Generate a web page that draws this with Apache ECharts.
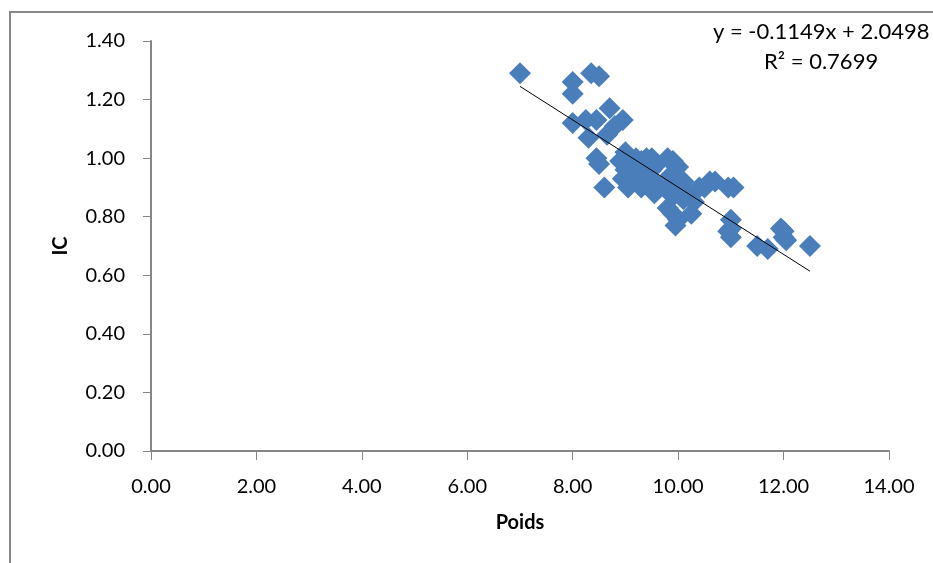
<!DOCTYPE html>
<html>
<head>
<meta charset="utf-8">
<title>IC vs Poids</title>
<script src="https://cdn.jsdelivr.net/npm/echarts@6/dist/echarts.min.js"></script>
<style>
  html, body { margin: 0; padding: 0; background: #fff; }
  #chart { width: 933px; height: 563px; }
</style>
</head>
<body>
<div id="chart"></div>
<script>
// Poids (x) and IC (y)
const poids = [
  7.0, 8.0, 8.0, 8.35, 8.5,
  8.0, 8.25, 8.45, 8.7, 8.8, 8.95,
  8.3, 8.65, 8.45, 8.5, 8.6,
  9.0, 9.1, 9.2, 9.3, 9.4, 9.5, 9.6, 9.8, 9.9, 10.0,
  8.9, 9.0, 9.1, 9.2, 9.35, 9.5, 9.85, 10.0, 10.1,
  8.95, 9.05, 9.2, 9.4, 9.6, 9.8, 10.0, 10.2, 10.4,
  9.3, 9.55, 9.9, 10.1, 10.3,
  9.8, 9.9, 10.0, 9.95, 10.25,
  10.5, 10.6, 10.7, 10.95, 11.05,
  11.0, 11.0, 11.0, 10.95,
  11.5, 11.7, 12.0, 12.0, 12.05, 11.95, 12.5
]
const ic = [
  1.29, 1.26, 1.22, 1.29, 1.28,
  1.12, 1.13, 1.13, 1.17, 1.11, 1.13,
  1.07, 1.08, 1.0, 0.98, 0.9,
  1.02, 1.0, 1.0, 0.99, 1.0, 1.0, 0.98, 1.0, 0.99, 0.97,
  0.99, 0.96, 0.95, 0.97, 0.95, 0.96, 0.94, 0.93, 0.92,
  0.93, 0.9, 0.92, 0.93, 0.91, 0.9, 0.9, 0.88, 0.9,
  0.9, 0.88, 0.87, 0.86, 0.85,
  0.83, 0.81, 0.79, 0.77, 0.81,
  0.9, 0.92, 0.92, 0.9, 0.9,
  0.79, 0.76, 0.73, 0.75,
  0.7, 0.69, 0.75, 0.73, 0.72, 0.76, 0.7
]
// linear trend line end points
const trendX = [7.0, 12.5]
const trendY = [1.245, 0.614]
const eqText = 'y = -0.1149x + 2.0498'
const r2Text = 'R² = 0.7699'

const font = 'Lato, "Open Sans", sans-serif'
const axisColor = '#868686'

const chart = echarts.init(document.getElementById('chart'), null, { renderer: 'canvas' })

chart.setOption({
  animation: false,
  backgroundColor: '#fff',
  grid: { left: 151, right: 44, top: 41, bottom: 112 },
  xAxis: {
    type: 'value',
    min: 0,
    max: 14,
    interval: 2,
    name: 'Poids',
    nameLocation: 'middle',
    nameGap: 62,
    nameTextStyle: { fontFamily: font, fontSize: 20, fontWeight: 'bold', color: '#000' },
    axisLine: { lineStyle: { color: axisColor, width: 2 } },
    axisTick: { length: 9, lineStyle: { color: axisColor } },
    axisLabel: {
      fontFamily: font, fontSize: 20, color: '#000', margin: 26,
      formatter: v => v.toFixed(2)
    },
    splitLine: { show: false }
  },
  yAxis: {
    type: 'value',
    min: 0,
    max: 1.4,
    interval: 0.2,
    name: 'IC',
    nameLocation: 'middle',
    nameGap: 80,
    nameTextStyle: { fontFamily: font, fontSize: 20, fontWeight: 'bold', color: '#000' },
    axisLine: { show: true, lineStyle: { color: axisColor, width: 2 } },
    axisTick: { show: true, length: 8, lineStyle: { color: axisColor } },
    axisLabel: {
      fontFamily: font, fontSize: 20, color: '#000', margin: 26,
      formatter: v => v.toFixed(2)
    },
    splitLine: { show: false }
  },
  series: [{
    type: 'scatter',
    symbol: 'diamond',
    symbolSize: 22,
    itemStyle: { color: '#4A7EBB', opacity: 1 },
    data: poids.map((x, i) => [x, ic[i]]),
    z: 2
  }, {
    type: 'line',
    symbol: 'none',
    lineStyle: { color: '#000', width: 1 },
    data: trendX.map((x, i) => [x, trendY[i]]),
    z: 3
  }],
  graphic: [{
    type: 'rect',
    shape: { x: 10, y: 12, width: 1000, height: 600 },
    style: { fill: 'none', stroke: '#888', lineWidth: 2 },
    silent: true
  }, {
    type: 'text',
    left: 713,
    top: 21,
    style: { text: eqText, font: '22px ' + font, fill: '#000' }
  }, {
    type: 'text',
    left: 764,
    top: 51,
    style: { text: r2Text, font: '22px ' + font, fill: '#000' }
  }]
})
</script>
</body>
</html>
